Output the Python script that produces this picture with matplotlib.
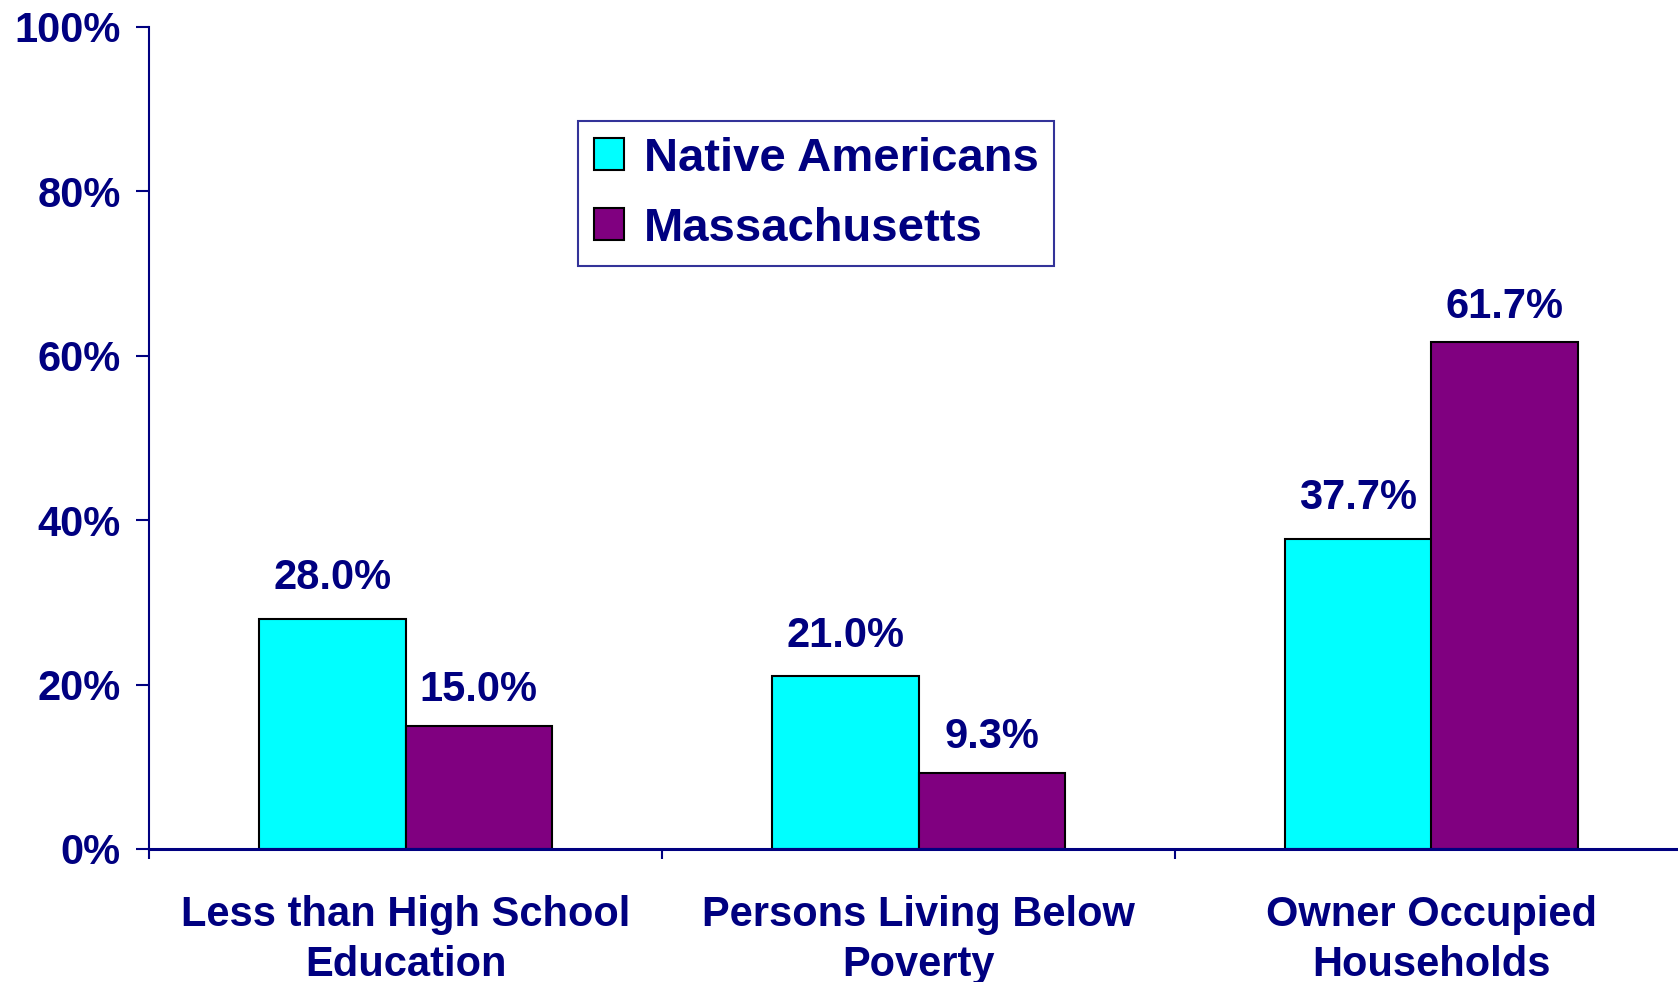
import matplotlib
matplotlib.use("Agg")
import matplotlib.pyplot as plt
import numpy as np

# --- Global Style Settings ---
matplotlib.rcParams['font.family'] = ['Liberation Sans', 'DejaVu Sans']
matplotlib.rcParams['font.weight'] = 'bold'

NAVY = '#000080'

categories = ['Less than High School\nEducation',
              'Persons Living Below\nPoverty',
              'Owner Occupied\nHouseholds']
series_names = ['Native Americans', 'Massachusetts']
native_americans = [28.0, 21.0, 37.7]
massachusetts = [15.0, 9.3, 61.7]
y_ticks = [0, 20, 40, 60, 80, 100]
y_tick_labels = ['0%', '20%', '40%', '60%', '80%', '100%']

colors = ['#00FFFF', '#800080']
label_offsets = [15, 11]  # points above bar top, per series

fig = plt.figure(figsize=(16.78, 9.82), dpi=100)
ax = fig.add_axes([149 / 1678, 1 - 849 / 982, 1539 / 1678, 822 / 982])

x = np.arange(len(categories))
width = 0.286
series = [native_americans, massachusetts]
for i, (name, vals) in enumerate(zip(series_names, series)):
    offs = (i - 0.5) * width
    bars = ax.bar(x + offs, vals, width, color=colors[i], edgecolor='black',
                  linewidth=1.5, label=name, zorder=2)
    for b, v in zip(bars, vals):
        ax.annotate(f'{v:.1f}%', (b.get_x() + b.get_width() / 2, v),
                    xytext=(0, label_offsets[i]), textcoords='offset points',
                    ha='center', va='bottom', fontsize=30,
                    fontweight='bold', color=NAVY)

ax.set_xlim(-0.5, len(categories) - 0.5)
ax.set_ylim(0, 100)
ax.set_yticks(y_ticks)
ax.set_yticklabels(y_tick_labels)
ax.set_xticks(x)
ax.set_xticklabels(categories, linespacing=1.32)
ax.set_xticks(np.arange(len(categories) + 1) - 0.5, minor=True)

ax.tick_params(axis='y', direction='out', length=9.5, width=1.5, color=NAVY,
               labelcolor=NAVY, labelsize=30, pad=11)
ax.tick_params(axis='x', which='major', length=0, labelcolor=NAVY,
               labelsize=30, pad=33)
ax.tick_params(axis='x', which='minor', direction='out', length=7, width=1.5,
               color=NAVY)

for s in ['top', 'right']:
    ax.spines[s].set_visible(False)
ax.spines['left'].set_color(NAVY)
ax.spines['left'].set_linewidth(1.5)
ax.spines['bottom'].set_color(NAVY)
ax.spines['bottom'].set_linewidth(2.2)

leg = fig.legend(loc='upper left', bbox_to_anchor=(578 / 1678, 1 - 121 / 982),
                 fontsize=34, frameon=True, fancybox=False,
                 handlelength=0.64, handleheight=0.64, handletextpad=0.42,
                 borderpad=0.33, labelspacing=0.55, borderaxespad=0)
leg.get_frame().set_edgecolor(NAVY)
leg.get_frame().set_linewidth(1.5)
for t in leg.get_texts():
    t.set_color(NAVY)

fig.savefig('out.png', dpi=100)
